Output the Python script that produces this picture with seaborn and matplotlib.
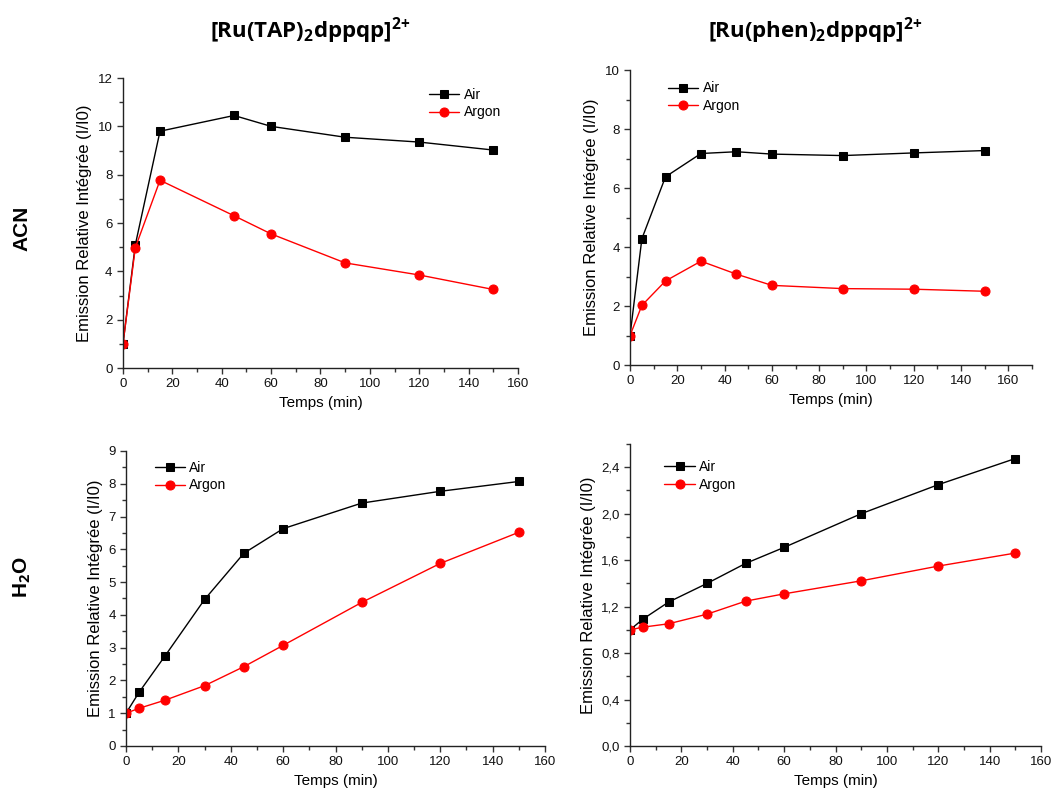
import pandas as pd
import matplotlib.pyplot as plt
import seaborn as sns
from matplotlib.ticker import MultipleLocator, FuncFormatter

# data
t_acn_tap = [0, 5, 15, 45, 60, 90, 120, 150]
air_acn_tap = [1.0, 5.1, 9.8, 10.45, 10.0, 9.55, 9.35, 9.02]
argon_acn_tap = [1.0, 4.98, 7.77, 6.3, 5.55, 4.35, 3.85, 3.25]

t_acn_phen = [0, 5, 15, 30, 45, 60, 90, 120, 150]
air_acn_phen = [1.0, 4.28, 6.38, 7.17, 7.23, 7.15, 7.1, 7.19, 7.27]
argon_acn_phen = [1.0, 2.02, 2.85, 3.52, 3.08, 2.70, 2.59, 2.57, 2.50]

t_h2o_tap = [0, 5, 15, 30, 45, 60, 90, 120, 150]
air_h2o_tap = [1.0, 1.64, 2.76, 4.47, 5.88, 6.63, 7.41, 7.77, 8.07]
argon_h2o_tap = [1.0, 1.15, 1.40, 1.84, 2.42, 3.07, 4.38, 5.57, 6.52]

t_h2o_phen = [0, 5, 15, 30, 45, 60, 90, 120, 150]
air_h2o_phen = [1.0, 1.092, 1.239, 1.40, 1.572, 1.71, 2.0, 2.25, 2.475]
argon_h2o_phen = [1.0, 1.023, 1.052, 1.135, 1.247, 1.31, 1.422, 1.549, 1.661]

titles = ["[Ru(TAP)$_2$dppqp]$^{2{+}}$", "[Ru(phen)$_2$dppqp]$^{2{+}}$"]
rows = ["ACN", "H$_2$O"]

sns.set_style("ticks")
plt.rcParams['font.family'] = ['Liberation Sans', 'DejaVu Sans']
plt.rcParams['text.color'] = 'black'
plt.rcParams['axes.labelcolor'] = 'black'
plt.rcParams['xtick.labelcolor'] = '#111111'
plt.rcParams['ytick.labelcolor'] = '#111111'
plt.rcParams['mathtext.fontset'] = 'custom'
plt.rcParams['mathtext.rm'] = 'Open Sans:bold'
plt.rcParams['mathtext.it'] = 'Open Sans:bold'
plt.rcParams['mathtext.bf'] = 'Open Sans:bold'

fig = plt.figure(figsize=(10.52, 7.93), dpi=100)

panels = [
    # rect, t, air, argon, xlim, ylim, ymaj, ymin, legend anchor, comma
    ([0.1169, 0.5359, 0.3755, 0.3657], t_acn_tap, air_acn_tap, argon_acn_tap,
     160, 12, 2, 1, (0.76, 0.985), False),
    ([0.5989, 0.5397, 0.3821, 0.3720], t_acn_phen, air_acn_phen, argon_acn_phen,
     170, 10, 2, 1, (0.08, 0.98), False),
    ([0.1198, 0.0593, 0.3983, 0.3720], t_h2o_tap, air_h2o_tap, argon_h2o_tap,
     160, 9, 1, 0.5, (0.055, 0.985), False),
    ([0.5989, 0.0593, 0.3907, 0.3808], t_h2o_phen, air_h2o_phen, argon_h2o_phen,
     160, 2.6, 0.4, 0.2, (0.07, 0.965), True),
]

for rect, t, air, argon, xmax, ymax, ymaj, ymin, loc, comma in panels:
    ax = fig.add_axes(rect)
    df = pd.DataFrame({
        "t": t + t,
        "v": air + argon,
        "gas": ["Air"] * len(t) + ["Argon"] * len(t),
    })
    sns.lineplot(data=df[df.gas == "Air"], x="t", y="v", color="black",
                 marker="s", markersize=6, markeredgecolor="black",
                 linewidth=1, label="Air", ax=ax)
    sns.lineplot(data=df[df.gas == "Argon"], x="t", y="v", color="#ff0000",
                 marker="o", markersize=6.5, markeredgecolor="#ff0000",
                 linewidth=1, label="Argon", ax=ax)
    ax.set_xlim(0, xmax)
    ax.set_ylim(0, ymax)
    ax.xaxis.set_major_locator(MultipleLocator(20))
    ax.xaxis.set_minor_locator(MultipleLocator(10))
    ax.yaxis.set_major_locator(MultipleLocator(ymaj))
    ax.yaxis.set_minor_locator(MultipleLocator(ymin))
    if comma:
        ax.yaxis.set_major_formatter(FuncFormatter(lambda v, p: f"{v:.1f}".replace(".", ",")))
    sns.despine(ax=ax)
    ax.tick_params(which="major", length=4, width=1, labelsize=9.5, color="#333333")
    ax.tick_params(which="minor", length=3, width=1, color="#333333")
    for s in ("left", "bottom"):
        ax.spines[s].set_linewidth(1)
        ax.spines[s].set_color("#222222")
    ax.set_xlabel("Temps (min)", fontsize=11)
    ax.set_ylabel("Emission Relative Intégrée (I/I0)", fontsize=12)
    ax.legend(loc="upper left", bbox_to_anchor=loc, frameon=False, fontsize=10,
              handlelength=2.2, handletextpad=0.3, labelspacing=0.25, borderaxespad=0)

fig.text(0.295, 0.962, titles[0], fontsize=16, ha="center", va="center",
         family="Open Sans", fontweight="bold", color="black")
fig.text(0.775, 0.962, titles[1], fontsize=16, ha="center", va="center",
         family="Open Sans", fontweight="bold", color="black")
fig.text(0.021, 0.712, rows[0], fontsize=15, ha="center", va="center",
         rotation=90, fontweight="bold", color="black")
fig.text(0.021, 0.272, rows[1], fontsize=15, ha="center", va="center",
         rotation=90, fontweight="bold", color="black")

fig.savefig("out.png", dpi=100)
